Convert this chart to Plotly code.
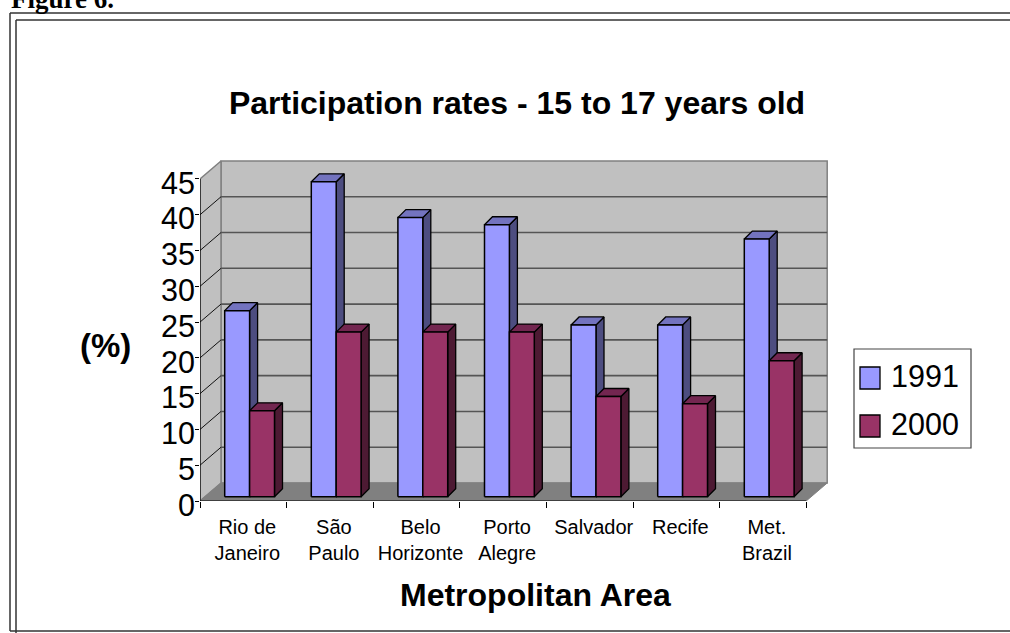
import plotly.graph_objects as go

areas = ["Rio de<br>Janeiro", "São<br>Paulo", "Belo<br>Horizonte", "Porto<br>Alegre",
         "Salvador", "Recife", "Met.<br>Brazil"]
rate_1991 = [26, 44, 39, 38, 24, 24, 36]
rate_2000 = [12, 23, 23, 23, 14, 13, 19]
y_ticks = list(range(0, 50, 5))

W, H = 1010, 633
# pixel scale of the front plane
X0, PX_CAT = 200.0, 86.6
Y0, PX_VAL = 501.0, 7.156
# depth projection, in data units
DX, DV = 21 / PX_CAT, 18 / PX_VAL
BAR_GAP, BAR_W = 24.7 / PX_CAT, 24.9 / PX_CAT
BAR_BASE = 4.3 / PX_VAL
BDX, BDV = 8 / PX_CAT, 8 / PX_VAL
N = len(areas)
XMAX, YMAX = N + DX + 0.04, 45 + DV + 0.3

INK = "#000000"


def poly(xs, ys, fill, line, width=1.0, name=None):
    return go.Scatter(x=xs + xs[:1], y=ys + ys[:1], mode="lines", fill="toself",
                      fillcolor=fill, line=dict(color=line, width=width),
                      showlegend=False, hoverinfo="skip" if name is None else "name",
                      name=name)


fig = go.Figure()
# walls and floor
fig.add_trace(poly([DX, N + DX, N + DX, DX], [DV, DV, 45 + DV, 45 + DV], "#C0C0C0", "#808080", 1.5))
fig.add_trace(poly([0, DX, DX, 0], [0, DV, 45 + DV, 45], "#C0C0C0", "#808080", 1.5))
fig.add_trace(poly([0, N, N + DX, DX], [0, 0, DV, DV], "#808080", "#808080", 1))

# gridlines on back wall and side wall
gx, gy, sx, sy = [], [], [], []
for v in y_ticks[1:-1]:
    gx += [DX, N + DX, None]
    gy += [v + DV, v + DV, None]
for v in y_ticks[1:-1]:
    sx += [0, DX, None]
    sy += [v, v + DV, None]
fig.add_trace(go.Scatter(x=gx, y=gy, mode="lines", line=dict(color="#555555", width=1.6),
                         showlegend=False, hoverinfo="skip"))
fig.add_trace(go.Scatter(x=sx, y=sy, mode="lines", line=dict(color="#111111", width=1),
                         showlegend=False, hoverinfo="skip"))

series = [
    ("1991", rate_1991, 0, "#9999FF", "#7373BF", "#4D4D80"),
    ("2000", rate_2000, 1, "#993366", "#732650", "#4D1A33"),
]
for i in range(N):
    for name, vals, k, front, top, side in series:
        l = i + BAR_GAP + k * BAR_W
        r = l + BAR_W
        b = BAR_BASE
        t = BAR_BASE + vals[i]
        fig.add_trace(poly([r, r + BDX, r + BDX, r], [b, b + BDV, t + BDV, t], side, INK, 1.3))
        fig.add_trace(poly([l, r, r + BDX, l + BDX], [t, t, t + BDV, t + BDV], top, INK, 1.3))
        fig.add_trace(poly([l, r, r, l], [b, b, t, t], front, INK, 1.5,
                           name=f"{name}: {vals[i]}%"))


def px(x):
    return x / W


def py(y):
    return 1 - y / H


def hline(x0, x1, y, color="#333333", width=1.5):
    return dict(type="line", xref="paper", yref="paper", x0=px(x0), x1=px(x1), y0=py(y), y1=py(y),
                line=dict(color=color, width=width))


def vline(x, y0, y1, color="#333333", width=1.5):
    return dict(type="line", xref="paper", yref="paper", x0=px(x), x1=px(x), y0=py(y0), y1=py(y1),
                line=dict(color=color, width=width))


shapes = [
    hline(10, W, 13), hline(16, W, 20), hline(10, W, 631),
    vline(10, 13, 631), vline(16, 20, 633),
    # front axis lines
    dict(type="line", xref="x", yref="y", x0=0, x1=N, y0=0, y1=0, line=dict(color=INK, width=1.2)),
    dict(type="line", xref="x", yref="y", x0=0, x1=0, y0=0, y1=45, line=dict(color=INK, width=1.2)),
    # legend box and swatches
    dict(type="rect", xref="paper", yref="paper", x0=px(854), x1=px(971), y0=py(448), y1=py(349),
         line=dict(color="#444444", width=1.2), fillcolor="white"),
    dict(type="rect", xref="paper", yref="paper", x0=px(860), x1=px(880), y0=py(389), y1=py(367),
         line=dict(color=INK, width=1.3), fillcolor="#9999FF"),
    dict(type="rect", xref="paper", yref="paper", x0=px(860), x1=px(880), y0=py(437), y1=py(415),
         line=dict(color=INK, width=1.3), fillcolor="#993366"),
]

ARIAL = "Liberation Sans, Arial, sans-serif"


def note(text, x, y, size, bold=False, family=ARIAL, xanchor="center", yanchor="middle"):
    return dict(text=f"<b>{text}</b>" if bold else text, x=px(x), y=py(y), xref="paper", yref="paper",
                showarrow=False, xanchor=xanchor, yanchor=yanchor, align="center",
                font=dict(family=family, size=size, color=INK))


annotations = [
    note("Figure 6.", 9, -1, 27, True, "Liberation Serif, Times New Roman, serif", "left"),
    note("(%)", 105, 345, 33, True),
    note("Metropolitan Area", 535, 595, 32, True),
    note("1991", 889, 376, 30.5, xanchor="left"),
    note("2000", 889, 424, 30.5, xanchor="left"),
]

fig.update_layout(
    width=W, height=H, margin=dict(l=0, r=0, t=0, b=0), autosize=False,
    paper_bgcolor="white", plot_bgcolor="white", showlegend=False,
    title=dict(text="<b>Participation rates - 15 to 17 years old</b>", x=517 / W, y=py(103),
               xref="paper", yref="paper", xanchor="center", yanchor="middle", automargin=False,
               font=dict(family=ARIAL, size=32, color=INK)),
    shapes=shapes, annotations=annotations,
    xaxis=dict(domain=[px(X0), px(X0 + XMAX * PX_CAT)], range=[0, XMAX], showgrid=False, zeroline=False,
               automargin=False,
               showline=False, tickmode="array", tickvals=[i + 0.5 for i in range(N)], ticktext=areas,
               ticks="outside", ticklen=8, tickcolor="rgba(0,0,0,0)", ticklabelshift=4,
               tickfont=dict(family=ARIAL, size=20, color=INK),
               minor=dict(tickmode="array", tickvals=list(range(N + 1)), ticks="outside", ticklen=6,
                          tickcolor=INK, tickwidth=1.2, showgrid=False)),
    yaxis=dict(domain=[py(Y0), py(Y0 - YMAX * PX_VAL)], range=[0, YMAX], showgrid=False, zeroline=False,
               automargin=False,
               showline=False, tickmode="array", tickvals=y_ticks, ticks="outside", ticklen=4,
               tickcolor=INK, tickwidth=1.2, ticklabelstandoff=-6, ticklabelshift=4,
               tickfont=dict(family=ARIAL, size=30.5, color=INK)),
)

fig.write_html("out.html", config={"responsive": False, "displayModeBar": False},
               post_script="document.body.style.margin='0';document.documentElement.style.overflow='hidden';")
